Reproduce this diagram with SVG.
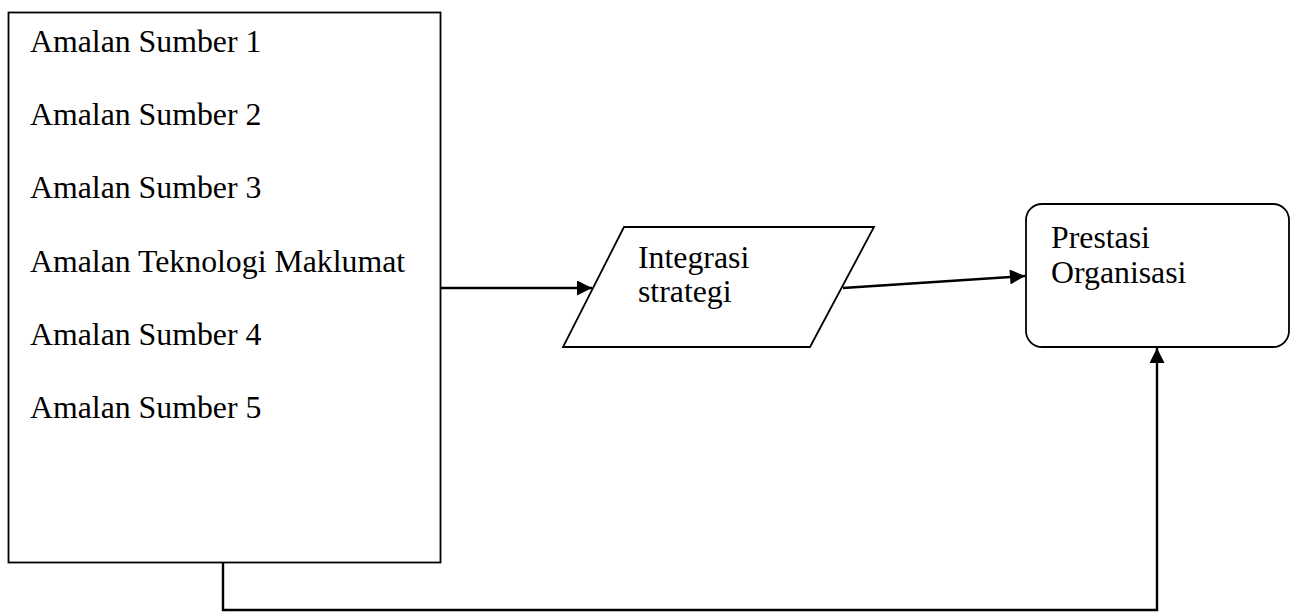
<svg xmlns="http://www.w3.org/2000/svg" width="1291" height="612" viewBox="0 0 1291 612">
<style>
.shape{fill:#fff;stroke:#000;stroke-width:1.8}
.txt{font-family:"Liberation Serif","Times New Roman",serif;font-size:31.8px;fill:#000}
.conn{fill:none;stroke:#000;stroke-width:2.4}
</style>
<defs>
<marker id="arr" viewBox="0 0 10 10" refX="10" refY="5" markerWidth="16" markerHeight="15" markerUnits="userSpaceOnUse" orient="auto">
<path d="M0,0 L10,5 L0,10 z" fill="#000"/>
</marker>
</defs>
<rect width="1291" height="612" fill="#fff"/>
<g id="practices">
<rect class="shape" x="8.5" y="12.5" width="432" height="550"/>
<text class="txt" x="30" y="52">Amalan Sumber 1</text>
<text class="txt" x="30" y="125">Amalan Sumber 2</text>
<text class="txt" x="30" y="198">Amalan Sumber 3</text>
<text class="txt" x="30" y="272">Amalan Teknologi Maklumat</text>
<text class="txt" x="30" y="345">Amalan Sumber 4</text>
<text class="txt" x="30" y="418">Amalan Sumber 5</text>
</g>
<g id="integration">
<polygon class="shape" points="624,227 874,227 810,347 563,347"/>
<text class="txt" x="638" y="268">Integrasi</text>
<text class="txt" x="638" y="302">strategi</text>
</g>
<g id="performance">
<rect class="shape" x="1026" y="204" width="263" height="143" rx="16" ry="16"/>
<text class="txt" x="1051" y="248">Prestasi</text>
<text class="txt" x="1051" y="283">Organisasi</text>
</g>
<g id="connectors">
<line class="conn" x1="441" y1="288" x2="592" y2="288" marker-end="url(#arr)"/>
<line class="conn" x1="843" y1="288" x2="1025" y2="276" marker-end="url(#arr)"/>
<polyline class="conn" points="223,563 223,610 1157,610 1157,348" marker-end="url(#arr)"/>
</g>
</svg>
